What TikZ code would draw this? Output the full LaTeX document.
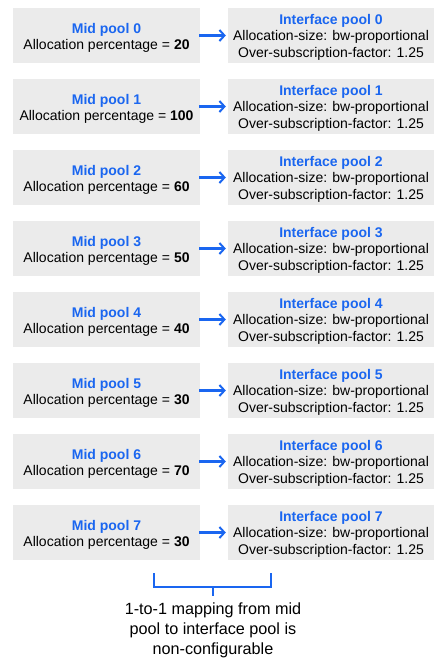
\documentclass[tikz,border=0pt]{standalone}
\usepackage{fontspec}
\setmainfont{Liberation Sans}
\usetikzlibrary{arrows.meta}
\definecolor{poolblue}{HTML}{1A66F0}
\definecolor{boxgray}{HTML}{EBEBEB}
\begin{document}
\begin{tikzpicture}[x=1pt,y=-1pt,
  poolbox/.style={fill=boxgray,draw=none,inner sep=0pt,minimum height=55pt},
  midbox/.style={poolbox,minimum width=187pt},
  ifbox/.style={poolbox,minimum width=206pt},
  pooltext/.style={inner sep=0pt,align=center,font=\fontsize{14}{16.5}\selectfont},
  maparrow/.style={draw=poolblue,line width=2.2pt,-{Straight Barb[length=5pt,width=11pt,line width=2pt]}},
  bracket/.style={draw=poolblue,line width=2pt}]
\useasboundingbox (0,0) rectangle (435,662);
\foreach \i/\pct in {0/20,1/100,2/60,3/50,4/40,5/30,6/70,7/30}{
  \pgfmathsetmacro{\yc}{35.5+71*\i}
  \node[midbox] (mid\i) at (106.5,\yc) {};
  \node[pooltext] (midtext\i) at ([yshift=-2.5pt]mid\i.center)
    {{\color{poolblue}\bfseries Mid pool \i}\\Allocation percentage = \textbf{\pct}};
  \node[ifbox] (if\i) at (331,\yc) {};
  \node[pooltext] (iftext\i) at ([yshift=-1.8pt]if\i.center)
    {{\color{poolblue}\bfseries Interface pool \i}\\Allocation-size: bw-proportional\\Over-subscription-factor: 1.25};
  \draw[maparrow] ([xshift=-1pt]mid\i.east) -- ([xshift=-2pt]if\i.west);
}
\coordinate (bl) at (154,573);
\coordinate (br) at (271,573);
\coordinate (bm) at (212.5,596);
\draw[bracket] (bl) -- (154,587) -- (271,587) -- (br);
\draw[bracket] (212.5,587) -- (bm);
\node[align=center,anchor=north,inner sep=0pt,font=\fontsize{16.2}{20}\selectfont]
  (note) at (213,603) {1-to-1 mapping from mid\\pool to interface pool is\\non-configurable};
\end{tikzpicture}
\end{document}
